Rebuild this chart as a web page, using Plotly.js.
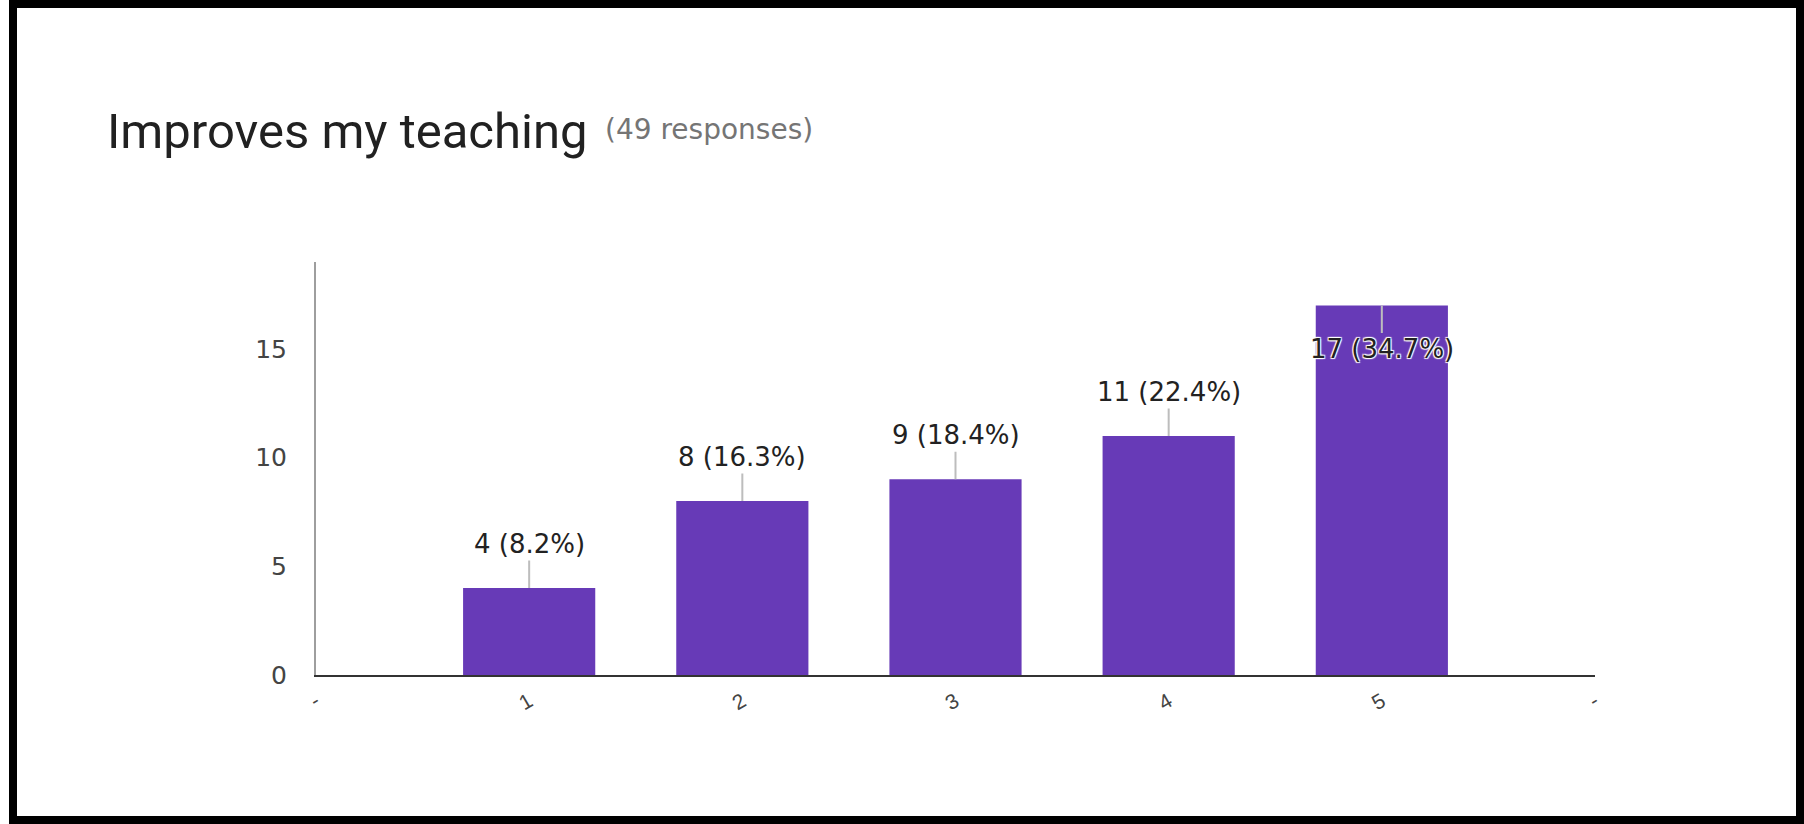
<!DOCTYPE html>
<html>
<head>
<meta charset="utf-8">
<script src="https://cdn.plot.ly/plotly-3.0.1.min.js"></script>
<style>
  html, body { margin: 0; padding: 0; background: #fff; }
  #chart { position: absolute; left: 0; top: 0; width: 1804px; height: 824px; }
  #frame { position: absolute; left: 9px; top: 0; width: 1795px; height: 824px;
           box-sizing: border-box; border: 8px solid #000; pointer-events: none; }
</style>
</head>
<body>
<div id="chart"></div>
<div id="frame"></div>
<script>
const categories = [1, 2, 3, 4, 5];
const counts = [4, 8, 9, 11, 17];
const percents = ["8.2%", "16.3%", "18.4%", "22.4%", "34.7%"];
const tickPositions = [0, 1, 2, 3, 4, 5, 6];
const tickLabels = ["-", "1", "2", "3", "4", "5", "-"];
const yTicks = [0, 5, 10, 15];
const titleText = "Improves my teaching";
const subtitleText = "(49 responses)";
const yMax = 19;

const bar = {
  type: "bar",
  x: categories,
  y: counts,
  width: 0.62,
  marker: { color: "#673ab7" },
  hoverinfo: "none"
};

const labelFont = "DejaVu Sans, Arial, sans-serif";

const annotations = categories.map((c, i) => {
  const inside = counts[i] + 2.2 > yMax;
  return {
    x: c, y: counts[i], xref: "x", yref: "y",
    text: counts[i] + " (" + percents[i] + ")",
    showarrow: true, arrowhead: 0, arrowwidth: 2, arrowcolor: "#bdbdbd",
    ax: 0, ay: inside ? 44 : -44,
    standoff: 0,
    font: {
      family: labelFont, size: 26, color: "#222",
      shadow: inside ? "1px 1px 1px #fff, -1px -1px 1px #fff, 1px -1px 1px #fff, -1px 1px 1px #fff" : "none"
    }
  };
});

// subtitle placed beside the title (paper coords derived from plot margins)
annotations.push({
  xref: "paper", yref: "paper",
  x: (603 - 316) / 1279, xanchor: "left",
  y: (675 - 129) / 413, yanchor: "middle",
  text: subtitleText, showarrow: false,
  font: { family: labelFont, size: 28, color: "#757575" }
});

const layout = {
  width: 1804, height: 824,
  margin: { l: 316, r: 209, t: 262, b: 149 },
  paper_bgcolor: "#fff", plot_bgcolor: "#fff",
  showlegend: false,
  title: {
    text: titleText,
    xref: "container", yref: "container",
    x: 107 / 1804, xanchor: "left",
    y: 1 - 131 / 824, yanchor: "middle",
    font: { family: "Roboto, Arial, sans-serif", size: 49, color: "#212121" }
  },
  xaxis: {
    range: [0, 6],
    tickmode: "array", tickvals: tickPositions, ticktext: tickLabels,
    tickangle: -30,
    showgrid: false, zeroline: false,
    showline: true, linecolor: "#333", linewidth: 2,
    ticks: "", ticklen: 0, ticklabelstandoff: 4,
    tickfont: { family: "Arial, sans-serif", size: 21, color: "#444" },
    fixedrange: true
  },
  yaxis: {
    range: [0, yMax],
    tickmode: "array", tickvals: yTicks,
    showgrid: false, zeroline: false,
    showline: true, linecolor: "#9e9e9e", linewidth: 2,
    ticks: "", ticklabelstandoff: 22,
    tickfont: { family: labelFont, size: 25, color: "#444" },
    fixedrange: true
  },
  annotations: annotations
};

Plotly.newPlot("chart", [bar], layout, { staticPlot: true, displayModeBar: false });
</script>
</body>
</html>
